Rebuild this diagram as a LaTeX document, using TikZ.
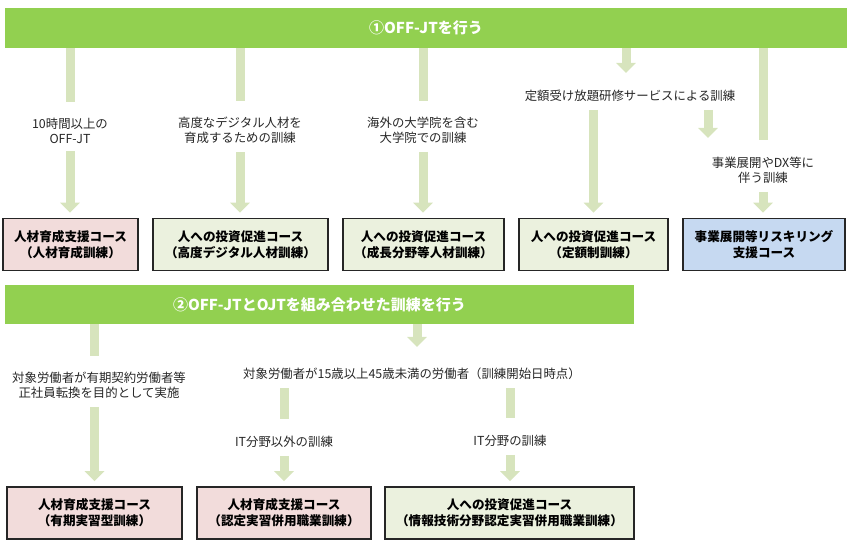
\documentclass[tikz,border=0pt]{standalone}
\usepackage{fontspec}
\setmainfont{Noto Sans CJK JP}
\usetikzlibrary{arrows.meta}
\definecolor{bargreen}{RGB}{146,208,80}
\definecolor{flowgreen}{RGB}{215,228,189}
\definecolor{boxpink}{RGB}{242,220,219}
\definecolor{boxolive}{RGB}{235,241,222}
\definecolor{boxblue}{RGB}{198,217,241}
\definecolor{boxline}{RGB}{38,38,38}

\begin{document}
\begin{tikzpicture}[x=1pt, y=-1pt,
	% Define the styles for bars, notes, courses and arrows
	bar/.style={fill=bargreen, text=white, font=\fontsize{15}{18}\selectfont\bfseries, inner sep=0pt, minimum height=40pt},
	note/.style={font=\fontsize{12.4}{15}\selectfont, align=center, inner sep=0pt, text=black!85},
	course/.style={draw=boxline, line width=1.6pt, font=\fontsize{12.6}{16}\selectfont\bfseries, align=center, minimum height=52pt, inner sep=0pt},
	shaft/.style={draw=flowgreen, line width=9pt},
	flow/.style={shaft, -{Triangle[width=19pt,length=10pt]}},
	into/.style={shorten >=16pt},
	outof/.style={shorten <=8pt},
	ontop/.style={shorten >=5pt}
	]
	\useasboundingbox (0,0) rectangle (857,553);
	
	% --- BARS ---
	\node (bar1) at (426,28) [bar, minimum width=842pt] {①OFF-JTを行う};
	\node (bar2) at (319.5,304.5) [bar, minimum width=629pt, minimum height=39pt] {②OFF-JTとOJTを組み合わせた訓練を行う};
	
	% --- COURSES ---
	% Format: \node (name) at (x,y) [course, fill=color] {text};
	\node (c1) at (70.5,244.5) [course, fill=boxpink, minimum width=135pt] {人材育成支援コース\\（人材育成訓練）};
	\node (c2) at (240.5,244.5) [course, fill=boxolive, minimum width=175pt] {人への投資促進コース\\（高度デジタル人材訓練）};
	\node (c3) at (423.5,244.5) [course, fill=boxolive, minimum width=161pt] {人への投資促進コース\\（成長分野等人材訓練）};
	\node (c4) at (593.5,244.5) [course, fill=boxolive, minimum width=149pt] {人への投資促進コース\\（定額制訓練）};
	\node (c5) at (764,244.5) [course, fill=boxblue, minimum width=162pt] {事業展開等リスキリング\\支援コース};
	
	\node (d1) at (94.5,513) [course, fill=boxpink, minimum width=175pt] {人材育成支援コース\\（有期実習型訓練）};
	\node (d2) at (284,513) [course, fill=boxpink, minimum width=174pt] {人材育成支援コース\\（認定実習併用職業訓練）};
	\node (d3) at (509.5,513) [course, fill=boxolive, minimum width=249pt] {人への投資促進コース\\（情報技術分野認定実習併用職業訓練）};
	
	% --- NOTES ---
	\node (n1) at (70,130.5) [note] {10時間以上の\\OFF-JT};
	\node (n2) at (240,130.5) [note] {高度なデジタル人材を\\育成するための訓練};
	\node (n3) at (423,130.5) [note] {海外の大学院を含む\\大学院での訓練};
	\node (n4) at (630,96) [note] {定額受け放題研修サービスによる訓練};
	\node (n5) at (763,170.5) [note] {事業展開やDX等に\\伴う訓練};
	\coordinate (n4end) at (708,138);
	
	\node (m1) at (99,385.5) [note] {対象労働者が有期契約労働者等\\正社員転換を目的として実施};
	\node (m2) at (412,374) [note] {対象労働者が15歳以上45歳未満の労働者（訓練開始日時点）};
	\node (m3) at (284,442) [note] {IT分野以外の訓練};
	\node (m4) at (510,441) [note] {IT分野の訓練};
	\coordinate (m2top) at (417,347);
	
	% --- ARROWS ---
	% Upper row: bar -> note -> course
	\draw[shaft, into] (bar1.south -| n1) -- (n1.north);
	\draw[flow, outof, ontop] (n1.south) -- (n1.south |- c1.north);
	\draw[shaft, into] (bar1.south -| n2) -- (n2.north);
	\draw[flow, outof, ontop] (n2.south) -- (n2.south |- c2.north);
	\draw[shaft, into] (bar1.south -| n3) -- (n3.north);
	\draw[flow, outof, ontop] (n3.south) -- (n3.south |- c3.north);
	\draw[flow] (bar1.south -| 626,0) -- (626,73); % flat-rate branch
	\draw[flow, outof, ontop] (n4.south -| c4) -- (c4.north);
	\draw[flow, outof] (n4.south -| n4end) -- (n4end);
	\draw[shaft, shorten >=17pt] (bar1.south -| n5) -- (n5.north);
	\draw[flow, outof, ontop] (n5.south) -- (n5.south |- c5.north);
	
	% Lower row: bar -> note -> note -> course
	\draw[shaft, into] (bar2.south -| d1) -- (d1 |- m1.north);
	\draw[flow, outof, ontop] (d1 |- m1.south) -- (d1.north);
	\draw[flow] (bar2.south -| m2top) -- (m2top);
	\draw[shaft, outof, shorten >=17pt] (m2.south -| m3) -- (m3.north);
	\draw[flow, outof, ontop] (m3.south) -- (m3.south |- d2.north);
	\draw[shaft, outof, shorten >=17pt] (m2.south -| m4) -- (m4.north);
	\draw[flow, outof, ontop] (m4.south) -- (m4.south |- d3.north);
	
\end{tikzpicture}
\end{document}
